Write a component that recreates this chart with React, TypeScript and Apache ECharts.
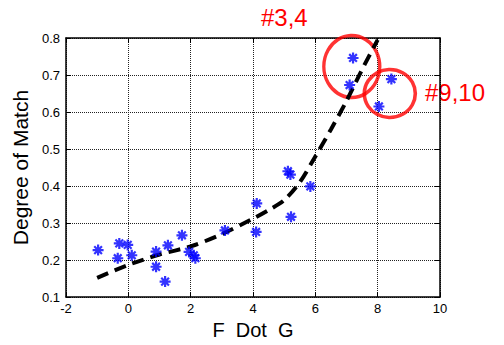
import React, { useEffect, useRef } from "react";
import * as echarts from "echarts";

const xTicks = [-2, 0, 2, 4, 6, 8, 10];
const yTicks = [0.1, 0.2, 0.3, 0.4, 0.5, 0.6, 0.7, 0.8];

const starX = [-0.97, -0.29, -0.02, -0.34, 0.11, 0.89, 0.89, 1.27, 1.18, 1.72, 1.95, 2.1, 2.15, 3.1, 4.12, 4.1, 5.22, 5.12, 5.2, 5.84, 7.21, 7.1, 8.44, 8.04];
const starY = [0.227, 0.245, 0.241, 0.205, 0.213, 0.223, 0.182, 0.24, 0.142, 0.267, 0.222, 0.213, 0.205, 0.28, 0.353, 0.276, 0.317, 0.44, 0.431, 0.399, 0.746, 0.673, 0.689, 0.615];

const curveX = [-1, 0, 1, 2, 3, 4, 4.5, 5, 5.5, 6, 6.5, 7, 7.5, 8];
const curveY = [0.152, 0.187, 0.215, 0.237, 0.27, 0.312, 0.335, 0.362, 0.41, 0.48, 0.553, 0.63, 0.715, 0.795];

const circleCenters = [
  [7.17, 0.723],
  [8.39, 0.65],
];
const circleLabels = ["#3,4", "#9,10"];

const STAR = "path://M5,0L5,10M0,5L10,5M1.5,1.5L8.5,8.5M8.5,1.5L1.5,8.5";

export default function App() {
  const ref = useRef<HTMLDivElement>(null);
  useEffect(() => {
    if (!ref.current) return;
    const chart = echarts.init(ref.current, null, { renderer: "svg" });
    const font = "Liberation Sans, Arial, sans-serif";
    const axisCommon = {
      min: -2,
      max: 10,
      interval: 2,
    };
    chart.setOption({
      animation: false,
      backgroundColor: "#fff",
      grid: { left: 66, right: 64, top: 38, bottom: 43 },
      xAxis: [
        {
          type: "value",
          ...axisCommon,
          position: "bottom",
          name: "F  Dot  G",
          nameLocation: "middle",
          nameGap: 21,
          nameTextStyle: { fontFamily: font, fontSize: 20, color: "#000" },
          axisLine: { show: true, onZero: false, lineStyle: { color: "#000", width: 1.5 } },
          axisTick: { show: true, inside: true, length: 5, lineStyle: { color: "#000" } },
          axisLabel: {
            fontFamily: font,
            fontSize: 13,
            color: "#000",
            margin: 5,
            formatter: (v: number) => (xTicks.includes(v) ? String(v) : ""),
          },
          splitLine: { show: true, lineStyle: { type: "dotted", color: "#222", width: 1 } },
        },
        {
          type: "value",
          ...axisCommon,
          position: "top",
          axisLine: { show: true, onZero: false, lineStyle: { color: "#000", width: 1.5 } },
          axisTick: { show: true, inside: true, length: 5, lineStyle: { color: "#000" } },
          axisLabel: { show: false },
          splitLine: { show: false },
        },
      ],
      yAxis: [
        {
          type: "value",
          min: 0.1,
          max: 0.8,
          interval: 0.1,
          position: "left",
          name: "Degree of Match",
          nameLocation: "middle",
          nameGap: 33,
          nameRotate: 90,
          nameTextStyle: { fontFamily: font, fontSize: 21, color: "#000" },
          axisLine: { show: true, onZero: false, lineStyle: { color: "#000", width: 1.5 } },
          axisTick: { show: true, inside: true, length: 5, lineStyle: { color: "#000" } },
          axisLabel: {
            fontFamily: font,
            fontSize: 13,
            color: "#000",
            margin: 6,
            formatter: (v: number) => {
              const r = Math.round(v * 10) / 10;
              return yTicks.includes(r) ? r.toFixed(1) : "";
            },
          },
          splitLine: { show: true, lineStyle: { type: "dotted", color: "#222", width: 1 } },
        },
        {
          type: "value",
          min: 0.1,
          max: 0.8,
          interval: 0.1,
          position: "right",
          axisLine: { show: true, onZero: false, lineStyle: { color: "#000", width: 1.5 } },
          axisTick: { show: true, inside: true, length: 5, lineStyle: { color: "#000" } },
          axisLabel: { show: false },
          splitLine: { show: false },
        },
      ],
      series: [
        {
          type: "line",
          data: curveX.map((x, i) => [x, curveY[i]]),
          smooth: 0.3,
          showSymbol: false,
          symbol: "none",
          lineStyle: { color: "#000", width: 4, type: [12, 7] },
          z: 3,
        },
        {
          type: "scatter",
          data: circleCenters.map((c, i) => ({
            value: c,
            symbolSize: i === 0 ? [56, 62] : [51, 48],
          })),
          symbol: "circle",
          itemStyle: { color: "rgba(0,0,0,0)", borderColor: "#ff0000", borderWidth: 3.5 },
          z: 2,
          silent: true,
        },
        {
          type: "scatter",
          data: starX.map((x, i) => [x, starY[i]]),
          symbol: STAR,
          symbolSize: 11,
          itemStyle: { color: "#0000ff", borderColor: "#0000ff", borderWidth: 2.2 },
          z: 4,
        },
      ],
      graphic: [
        {
          type: "text",
          left: 261,
          top: 5,
          style: { text: circleLabels[0], fontFamily: font, fontSize: 24, fill: "#ff0000" },
        },
        {
          type: "text",
          left: 425,
          top: 80,
          style: { text: circleLabels[1], fontFamily: font, fontSize: 24, fill: "#ff0000" },
        },
      ],
    });
    return () => chart.dispose();
  }, []);
  return <div ref={ref} style={{ width: 504, height: 345, position: "absolute", left: 0, top: 0 }} />;
}
